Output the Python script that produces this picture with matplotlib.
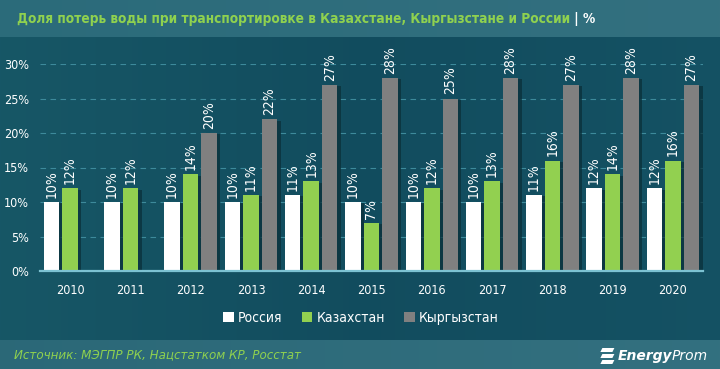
import numpy as np
import matplotlib
matplotlib.use("Agg")
import matplotlib.pyplot as plt
import matplotlib.patheffects as pe
from matplotlib.patches import Patch, Polygon

years = ["2010", "2011", "2012", "2013", "2014", "2015", "2016", "2017", "2018", "2019", "2020"]
russia = [10, 10, 10, 10, 11, 10, 10, 10, 11, 12, 12]
kazakhstan = [12, 12, 14, 11, 13, 7, 12, 13, 16, 14, 16]
kyrgyzstan = [np.nan, np.nan, 20, 22, 27, 28, 25, 28, 27, 28, 27]
series_names = ["Россия", "Казахстан", "Кыргызстан"]
series_colors = ["#ffffff", "#92d050", "#808080"]
yticks = [0, 5, 10, 15, 20, 25, 30]
title_main = "Доля потерь воды при транспортировке в Казахстане, Кыргызстане и России"
title_unit = " | %"
source = "Источник: МЭГПР РК, Нацстатком КР, Росстат"

W, H = 720, 369
fig = plt.figure(figsize=(W / 100, H / 100), dpi=100)
fig.patch.set_facecolor("#14505f")

# background
bg = fig.add_axes([0, 0, 1, 1], zorder=-10)
bg.set_xlim(0, W)
bg.set_ylim(H, 0)
bg.axis("off")
grad = np.linspace(0, 1, 256)[None, :]
bg.imshow(np.dstack([np.interp(grad, [0, 0.5, 1], [0.09, 0.07, 0.08]),
                     np.interp(grad, [0, 0.5, 1], [0.34, 0.30, 0.32]),
                     np.interp(grad, [0, 0.5, 1], [0.40, 0.37, 0.39])]),
          extent=[0, W, 340, 37], aspect="auto")
bg.imshow(np.dstack([np.interp(grad, [0, 1], [0.17, 0.20]),
                     np.interp(grad, [0, 1], [0.42, 0.44]),
                     np.interp(grad, [0, 1], [0.48, 0.50])]),
          extent=[0, W, 37, 0], aspect="auto")
bg.imshow(np.dstack([np.interp(grad, [0, 1], [0.17, 0.20]),
                     np.interp(grad, [0, 1], [0.41, 0.44]),
                     np.interp(grad, [0, 1], [0.47, 0.50])]),
          extent=[0, W, H, 340], aspect="auto")

# title
t1 = bg.text(17, 19, title_main, color="#8fd14f", fontsize=12.5, fontweight="bold",
             family="DejaVu Sans", fontstretch="condensed", va="center", ha="left")
fig.canvas.draw()
r = fig.canvas.get_renderer()
bb = t1.get_window_extent(r)
target = 575 - 17
t1.set_fontsize(12.5 * target / bb.width)
fig.canvas.draw()
bb = t1.get_window_extent(r)
bg.text(bb.x1, 19, title_unit, color="white", fontsize=t1.get_fontsize(), fontweight="bold",
        family="DejaVu Sans", fontstretch="condensed", va="center", ha="left")

# source and logo
bg.text(14, 355, source, color="#8fd14f", fontsize=9.5, style="italic",
        family="DejaVu Sans", fontstretch="condensed", va="center", ha="left")
tp = bg.text(708, 356, "Prom", color="white", fontsize=10, style="italic",
             family="DejaVu Sans", va="center", ha="right")
fig.canvas.draw()
p_bb = tp.get_window_extent(r)
te = bg.text(p_bb.x0, 356, "Energy", color="white", fontsize=10, fontweight="bold", style="italic",
             family="DejaVu Sans", va="center", ha="right")
fig.canvas.draw()
e_bb = te.get_window_extent(r)
ix = e_bb.x0 - 3
for yy in [348, 354, 360]:
    bg.add_patch(Polygon([[ix - 12, yy], [ix, yy], [ix - 2, yy + 4], [ix - 14, yy + 4]],
                         closed=True, facecolor="white", edgecolor="none"))

# main axes
ax_left, ax_right = 40 / W, 703 / W
ax_bot, ax_top = 1 - 271 / H, 1 - 64 / H
ax = fig.add_axes([ax_left, ax_bot, ax_right - ax_left, ax_top - ax_bot])
ax.set_facecolor("none")
x = np.arange(len(years))
step = 0.307
width = 0.257
shadow = [pe.SimplePatchShadow(offset=(2.5, -1), shadow_rgbFace="#0a2e37", alpha=0.7), pe.Normal()]
for k, (vals, col) in enumerate(zip([russia, kazakhstan, kyrgyzstan], series_colors)):
    pos = x + (k - 1) * step
    bars = ax.bar(pos, vals, width=width, color=col, zorder=3)
    for b in bars:
        b.set_path_effects(shadow)
    for p, v in zip(pos, vals):
        if np.isnan(v):
            continue
        ax.annotate(f"{v:.0f}%", (p, v), xytext=(0, 3), textcoords="offset points",
                    rotation=90, ha="center", va="bottom", color="white", fontsize=10,
                    family="DejaVu Sans", fontstretch="condensed", annotation_clip=False, zorder=4)

ax.set_xlim(-0.5, 10.5)
ax.set_ylim(0, 30)
ax.set_yticks(yticks)
ax.set_yticklabels([f"{v}%" for v in yticks])
ax.set_xticks(x)
ax.set_xticklabels(years)
ax.tick_params(axis="both", length=0, colors="white", labelsize=9)
ax.tick_params(axis="y", pad=8)
ax.tick_params(axis="x", pad=9)
for lab in ax.get_xticklabels() + ax.get_yticklabels():
    lab.set_family("DejaVu Sans")
    lab.set_fontstretch("condensed")
ax.grid(axis="y", color="#3d8a9b", linestyle=(0, (5, 4)), linewidth=0.8, zorder=0)
for s in ["top", "right", "left"]:
    ax.spines[s].set_visible(False)
ax.spines["bottom"].set_color("#7cc2d2")
ax.spines["bottom"].set_linewidth(1.6)
ax.spines["bottom"].set_zorder(5)

handles = [Patch(facecolor=c, edgecolor="none", label=n) for n, c in zip(series_names, series_colors)]
leg = fig.legend(handles=handles, loc="center", bbox_to_anchor=(361 / W, 1 - 318 / H), ncol=3,
                 frameon=False, fontsize=10, handlelength=0.75, handleheight=0.75,
                 handletextpad=0.3, columnspacing=1.4)
for t in leg.get_texts():
    t.set_color("white")
    t.set_family("DejaVu Sans")
    t.set_fontstretch("condensed")

fig.savefig("out.png", dpi=100, facecolor=fig.get_facecolor())
